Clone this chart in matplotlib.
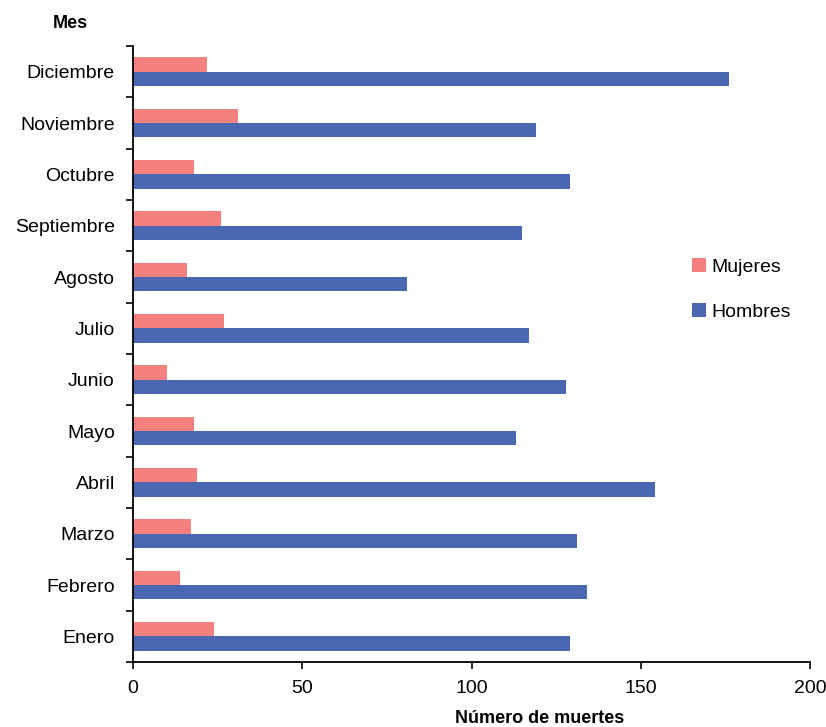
import matplotlib.pyplot as plt
import numpy as np

plt.rcParams['font.family'] = ['Liberation Sans', 'DejaVu Sans']

meses = ["Enero", "Febrero", "Marzo", "Abril", "Mayo", "Junio",
         "Julio", "Agosto", "Septiembre", "Octubre", "Noviembre", "Diciembre"]
mujeres = [24, 14, 17, 19, 18, 10, 27, 16, 26, 18, 31, 22]
hombres = [129, 134, 131, 154, 113, 128, 117, 81, 115, 129, 119, 176]

color_muj = "#F48080"
color_hom = "#4A68B1"


def draw() -> None:
    fig = plt.figure(figsize=(8.26, 7.27), dpi=100)
    ax = fig.add_axes([0.161, 0.0894, 0.82, 0.8473])

    y = np.arange(len(meses))
    h = 0.28
    ax.barh(y + h / 2, mujeres, height=h, color=color_muj, label="Mujeres")
    ax.barh(y - h / 2, hombres, height=h, color=color_hom, label="Hombres")

    ax.set_xlim(0, 200)
    ax.set_ylim(-0.5, len(meses) - 0.5)
    ax.set_xticks([0, 50, 100, 150, 200])
    ax.set_yticks(y)
    ax.set_yticklabels(meses)
    ax.set_yticks(np.arange(-0.5, len(meses)), minor=True)
    ax.tick_params(axis="y", which="major", length=0, pad=13, labelsize=14)
    ax.tick_params(axis="y", which="minor", length=5, width=1.2, direction="out")
    ax.tick_params(axis="x", length=5, width=1.2, labelsize=14, pad=8)

    for s in ["top", "right"]:
        ax.spines[s].set_visible(False)
    ax.spines["left"].set_linewidth(1.3)
    ax.spines["bottom"].set_linewidth(1.3)

    fig.text(0.085, 0.968, "Mes", fontsize=13, fontweight="bold", ha="center", va="center")
    fig.text(0.653, 0.012, "Número de muertes", fontsize=13, fontweight="bold", ha="center", va="center")

    ax.legend(loc="center left", bbox_to_anchor=(0.8, 0.605), frameon=False,
              fontsize=14, handlelength=0.7, handleheight=0.7, handletextpad=0.3,
              labelspacing=1.4)

    fig.savefig("out.png", dpi=100)


def main() -> None:
    draw()


main()
